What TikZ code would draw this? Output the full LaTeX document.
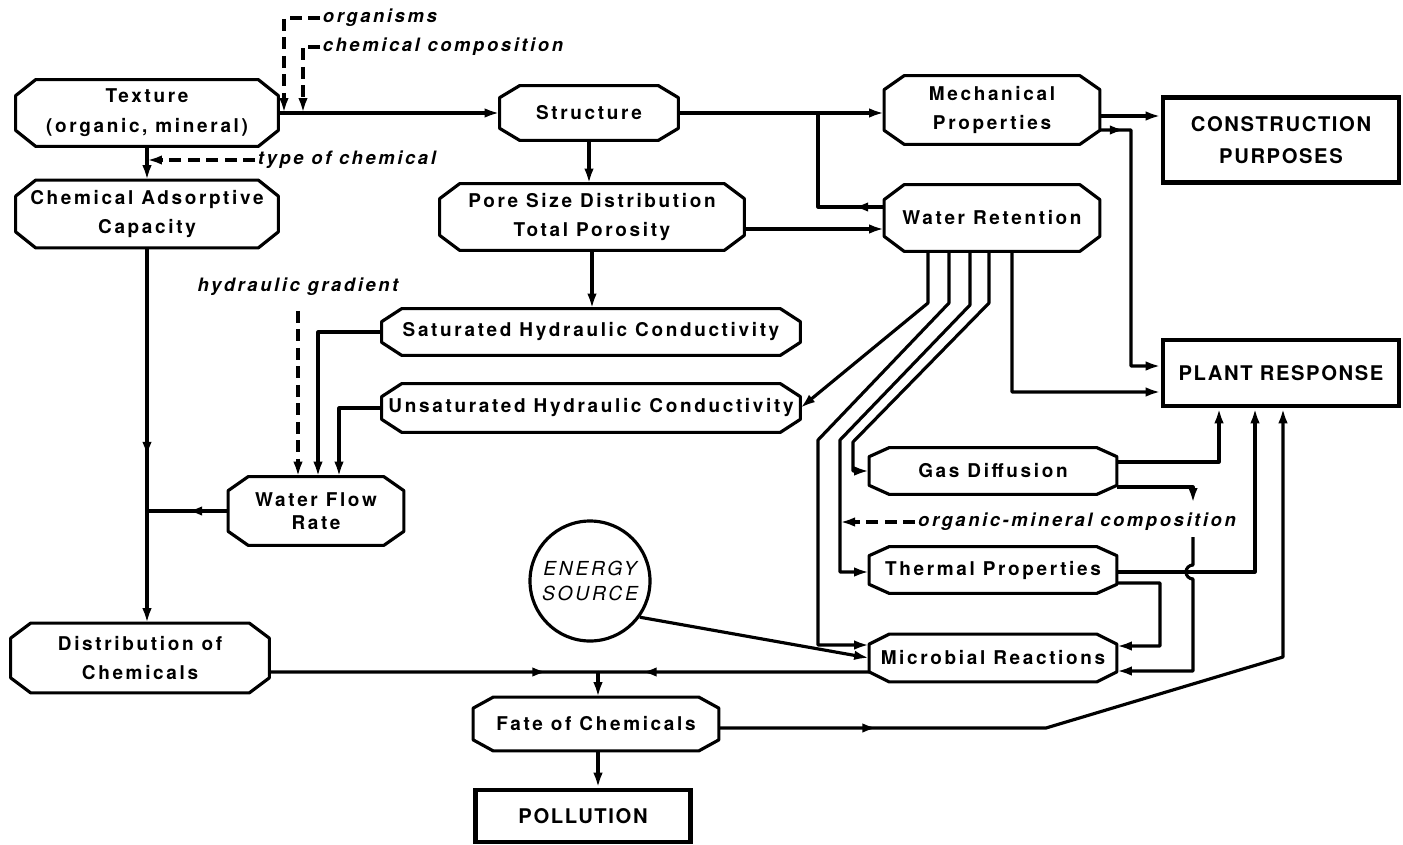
\documentclass[tikz,border=0pt]{standalone}
\usepackage{fontspec}
\setmainfont{TeX Gyre Heros}
\newfontfamily\boxfam{TeX Gyre Heros}[LetterSpace=14]
\newfontfamily\capfam{TeX Gyre Heros}[LetterSpace=8]
\usepackage{tikz}
\usetikzlibrary{arrows.meta,shapes,positioning,decorations.markings}
\newcommand\pxu{0.02cm}
\newcommand\boxfont{\boxfam\bfseries\fontsize{10.8}{17}\selectfont}
\newcommand\lblfont{\boxfam\bfseries\itshape\fontsize{10.5}{12}\selectfont}
\newcommand\capfont{\capfam\bfseries\fontsize{11.5}{18.5}\selectfont}
\newcommand\enefont{\boxfam\itshape\fontsize{11}{14}\selectfont}
\tikzset{
  box/.style={inner sep=0pt, align=center, font=\boxfont},
  hard/.style={draw, line width=2.6pt, inner sep=0pt, align=center, font=\capfont},
  oct/.style={line width=1.8pt, line join=round},
  link/.style={line width=1.8pt, line join=round},
  con/.style={link, -{Latex[length=0.3cm,width=0.19cm]}},
  dsh/.style={con, dash pattern=on 0.24cm off 0.13cm},
  lbl/.style={font=\lblfont, inner sep=1.5pt},
  midtip/.style={postaction={decorate}, decoration={markings,
      mark=at position #1 with {\arrow{Latex[length=0.3cm,width=0.19cm]}}}}
}

\begin{document}
\begin{tikzpicture}[x=0.02cm, y=-0.02cm]
        \useasboundingbox (0,0) rectangle (1403,845);

        \node[box, minimum width=262*\pxu, minimum height=66*\pxu] (tex) at (147,113) {Texture\\(organic, mineral)};
        \node[box, minimum width=262*\pxu, minimum height=67*\pxu] (cac) at (147,214) {Chemical Adsorptive\\Capacity};
        \node[box, minimum width=178*\pxu, minimum height=54*\pxu] (str) at (589,113) {Structure};
        \node[box, minimum width=304*\pxu, minimum height=66*\pxu] (psd) at (592,217) {Pore Size Distribution\\Total Porosity};
        \node[box, minimum width=215*\pxu, minimum height=68*\pxu] (mech) at (992,110) {Mechanical\\Properties};
        \node[box, minimum width=215*\pxu, minimum height=66*\pxu] (wr) at (992,218) {Water Retention};
        \node[box, minimum width=418*\pxu, minimum height=46*\pxu] (sat) at (591,332) {Saturated Hydraulic Conductivity};
        \node[box, minimum width=418*\pxu, minimum height=48*\pxu] (uns) at (591,408) {Unsaturated Hydraulic Conductivity};
        \node[box, minimum width=175*\pxu, minimum height=68*\pxu, font=\boxfam\bfseries\fontsize{10.8}{13}\selectfont] (wfr) at (316,511) {Water Flow\\Rate};
        \node[box, minimum width=247*\pxu, minimum height=46*\pxu] (gas) at (993,471) {Gas Diffusion};
        \node[box, minimum width=247*\pxu, minimum height=46*\pxu] (thp) at (993,570) {Thermal Properties};
        \node[box, minimum width=247*\pxu, minimum height=47*\pxu] (mic) at (993,658) {Microbial Reactions};
        \node[box, minimum width=258*\pxu, minimum height=69*\pxu] (doc) at (140,658) {Distribution of\\Chemicals};
        \node[box, minimum width=245*\pxu, minimum height=53*\pxu] (fate) at (596,724) {Fate of Chemicals};
        \node[draw, circle, line width=1.8pt, minimum size=120*\pxu, inner sep=0pt, align=center, font=\enefont] (ene) at (590,581) {ENERGY\\SOURCE};
        \node[hard, minimum width=236*\pxu, minimum height=85*\pxu] (cp) at (1281,140) {CONSTRUCTION\\PURPOSES};
        \node[hard, minimum width=236*\pxu, minimum height=66*\pxu] (pr) at (1281,373) {PLANT RESPONSE};
        \node[hard, minimum width=215*\pxu, minimum height=52*\pxu] (pol) at (583,816) {POLLUTION};

        \foreach \n/\cy in {tex/16,cac/16,str/12,psd/15,mech/14,wr/15,sat/13,uns/13,wfr/14,gas/9,thp/9,mic/10,doc/15,fate/11}
          \draw[oct] ([xshift=20*\pxu]\n.north west) -- ([xshift=-20*\pxu]\n.north east)
            -- ([yshift=-\cy*\pxu]\n.north east) -- ([yshift=\cy*\pxu]\n.south east)
            -- ([xshift=-20*\pxu]\n.south east) -- ([xshift=20*\pxu]\n.south west)
            -- ([yshift=\cy*\pxu]\n.south west) -- ([yshift=-\cy*\pxu]\n.north west) -- cycle;

        \node[lbl, anchor=west] (orgl) at (320,18) {organisms};
        \node[lbl, anchor=west] (chml) at (320,47) {chemical composition};
        \node[lbl, anchor=west] (tocl) at (255,160) {type of chemical};
        \node[lbl] (hgl) at (298,287) {hydraulic gradient};
        \node[lbl] (oml) at (1077,522) {organic-mineral composition};

        \coordinate (o1) at (284,113);
        \coordinate (o2) at (303,113);
        \coordinate (t1) at (147,160);
        \coordinate (j1) at (818,113);
        \coordinate (c1) at (840,522);
        \coordinate (g1) at (1193,503);
        \coordinate (g2) at (1193,537);
        \coordinate (jf) at (598,672);

        \draw[con] (tex.east) -- (str.west);
        \draw[dsh] (orgl.west) -| (o1);
        \draw[dsh] (chml.west) -| (o2);
        \draw[con] (tex.south) -- (cac.north);
        \draw[dsh] (tocl.west) -- (t1);
        \draw[con, midtip=4.18cm] (cac.south) -- (cac.south |- doc.north);
        \draw[link, midtip=0.82cm] (wfr.west) -- (wfr.west -| cac.south);

        \draw[con] (str.south) -- (str.south |- psd.north);
        \draw[con] (str.east) -- (str.east -| mech.west);
        \draw[link, midtip=0.62cm] ([yshift=0.22cm]wr.west) -| (j1);
        \draw[con] ([yshift=-0.24cm]psd.east) -- ([yshift=-0.24cm]psd.east -| wr.west);
        \draw[con] (psd.south) -- (psd.south |- sat.north);
        \draw[con] (sat.west) -| ([xshift=0.04cm]wfr.north);
        \draw[con] (uns.west) -| ([xshift=0.46cm]wfr.north);
        \draw[dsh] ([yshift=-0.24cm]hgl.south) -- (hgl.south |- wfr.north);

        \draw[con] ([xshift=-1.28cm]wr.south) -- (928,303) -- (uns.east);
        \draw[con] ([xshift=-0.86cm]wr.south) -- (949,303) -- (818,440) -- (818,645) -- ([yshift=0.26cm]mic.west);
        \draw[con] ([xshift=-0.44cm]wr.south) -- (970,305) -- (840,440) -- (840,572) -- ([yshift=-0.04cm]thp.west);
        \draw[con] ([xshift=-0.06cm]wr.south) -- (989,303) -- (853,442) -- (853,471) -- (gas.west);
        \draw[con] ([xshift=0.4cm]wr.south) -- (1012,392) -- ([yshift=-0.38cm]pr.west);
        \draw[dsh] (oml.west) -- (c1);

        \draw[con] ([yshift=-0.12cm]mech.east) -- ([yshift=-0.12cm]mech.east -| cp.west);
        \draw[con, midtip=0.5cm] ([yshift=-0.4cm]mech.east) -- (1131,130) -- (1131,366) -- ([yshift=0.14cm]pr.west);

        \draw[con] ([yshift=0.18cm]gas.east) -| ([xshift=-1.24cm]pr.south);
        \draw[con] ([yshift=-0.32cm]gas.east) -| (g1);
        \draw[con] (g2) -- (1193,565) arc[start angle=90, end angle=270, radius=0.14cm] -- (1193,671) -- ([yshift=-0.26cm]mic.east);
        \draw[con] ([yshift=-0.04cm]thp.east) -| ([xshift=-0.52cm]pr.south);
        \draw[con] ([yshift=-0.26cm]thp.east) -- (1160,583) -- (1160,646) -- ([yshift=0.24cm]mic.east);

        \draw[con] (ene.-36) -- (mic.west);
        \draw[link, midtip=4.55cm] ([yshift=-0.28cm]mic.west) -- (jf);
        \draw[link, midtip=5.56cm] ([yshift=-0.28cm]doc.east) -- (jf);
        \draw[con] (jf) -- (jf |- fate.north);
        \draw[con] (jf |- fate.south) -- (jf |- pol.north);
        \draw[con, midtip=3.17cm] ([yshift=-0.08cm]fate.east) -- (1046,728) -- (1283,657) -- ([xshift=0.04cm]pr.south);
        \end{tikzpicture}
\end{document}
